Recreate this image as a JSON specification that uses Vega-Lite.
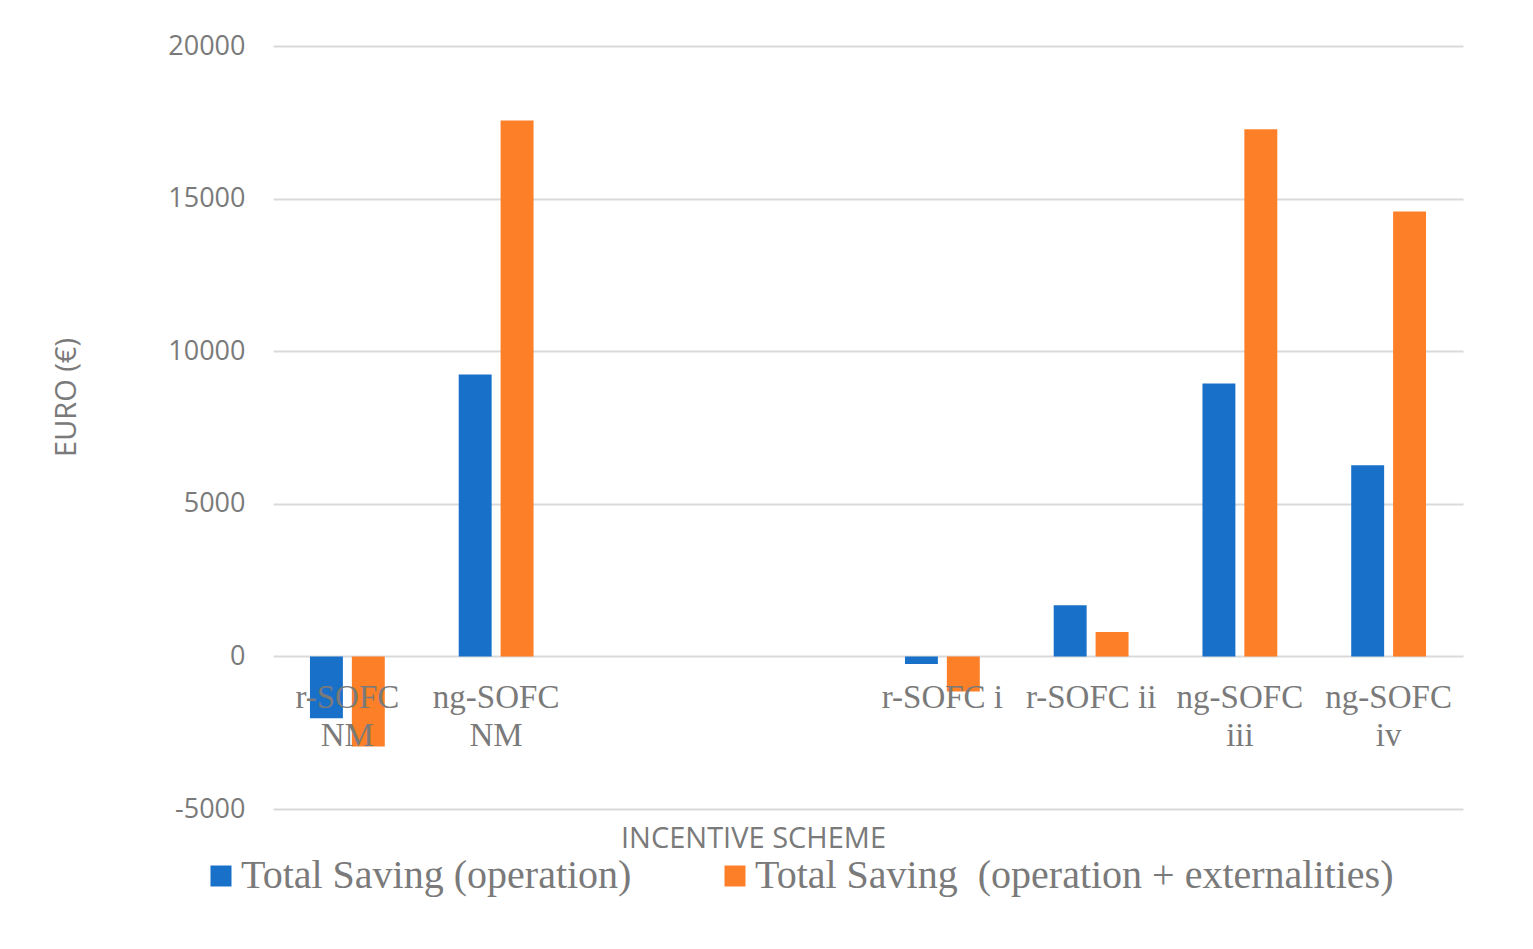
{
  "$schema": "https://vega.github.io/schema/vega-lite/v6.json",
  "autosize": {"type": "none"},
  "padding": {"left": 273, "top": 46, "right": 70, "bottom": 140},
  "width": 1190,
  "height": 763,
  "background": "white",
  "config": {"view": {"stroke": null}},
  "data": {
    "values": [
      {"scheme": "r-SOFC|NM", "series": "Total Saving (operation)", "value": -2030},
      {"scheme": "r-SOFC|NM", "series": "Total Saving  (operation + externalities)", "value": -2950},
      {"scheme": "ng-SOFC|NM", "series": "Total Saving (operation)", "value": 9240},
      {"scheme": "ng-SOFC|NM", "series": "Total Saving  (operation + externalities)", "value": 17560},
      {"scheme": "r-SOFC i", "series": "Total Saving (operation)", "value": -250},
      {"scheme": "r-SOFC i", "series": "Total Saving  (operation + externalities)", "value": -1150},
      {"scheme": "r-SOFC ii", "series": "Total Saving (operation)", "value": 1680},
      {"scheme": "r-SOFC ii", "series": "Total Saving  (operation + externalities)", "value": 800},
      {"scheme": "ng-SOFC|iii", "series": "Total Saving (operation)", "value": 8945},
      {"scheme": "ng-SOFC|iii", "series": "Total Saving  (operation + externalities)", "value": 17270},
      {"scheme": "ng-SOFC|iv", "series": "Total Saving (operation)", "value": 6260},
      {"scheme": "ng-SOFC|iv", "series": "Total Saving  (operation + externalities)", "value": 14580}
    ]
  },
  "mark": {"type": "bar"},
  "encoding": {
    "x": {
      "field": "scheme",
      "type": "nominal",
      "scale": {
        "domain": ["r-SOFC|NM", "ng-SOFC|NM", " ", "  ", "r-SOFC i", "r-SOFC ii", "ng-SOFC|iii", "ng-SOFC|iv"],
        "paddingInner": 0.497,
        "paddingOuter": 0.2485
      },
      "axis": {
        "zindex": 1,
        "title": "INCENTIVE SCHEME",
        "titleFont": "Open Sans",
        "titleFontSize": 29,
        "titleFontWeight": "normal",
        "titleColor": "#7a7a7a",
        "titleX": 480,
        "titleY": 181,
        "titleAlign": "center",
        "titleBaseline": "middle",
        "offset": -152,
        "domain": false,
        "ticks": false,
        "labelAngle": 0,
        "labelFont": "Liberation Serif",
        "labelFontSize": 33,
        "labelColor": "#7a7a7a",
        "labelPadding": 24,
        "labelLineHeight": 38,
        "labelBaseline": "top",
        "labelExpr": "split(datum.label, '|')",
        "grid": false
      }
    },
    "xOffset": {
      "field": "series",
      "type": "nominal",
      "sort": ["Total Saving (operation)", "Total Saving  (operation + externalities)"],
      "scale": {"paddingInner": 0.214, "paddingOuter": 0}
    },
    "y": {
      "field": "value",
      "type": "quantitative",
      "scale": {"domain": [-5000, 20000], "nice": false},
      "axis": {
        "title": "EURO (€)",
        "titleFont": "Open Sans",
        "titleFontSize": 29,
        "titleFontWeight": "normal",
        "titleColor": "#7a7a7a",
        "titleAngle": -90,
        "titleX": -207,
        "titleY": 351,
        "titleAlign": "center",
        "titleBaseline": "middle",
        "values": [-5000, 0, 5000, 10000, 15000, 20000],
        "labelExpr": "toString(datum.value)",
        "domain": false,
        "ticks": false,
        "labelFont": "Open Sans",
        "labelFontSize": 27,
        "labelColor": "#7a7a7a",
        "labelPadding": 28,
        "grid": true,
        "gridColor": "#d9d9d9",
        "gridWidth": 2
      }
    },
    "color": {
      "field": "series",
      "type": "nominal",
      "scale": {
        "domain": ["Total Saving (operation)", "Total Saving  (operation + externalities)"],
        "range": ["#1870c9", "#fd7f27"]
      },
      "legend": {
        "title": null,
        "orient": "none",
        "legendX": -72,
        "legendY": 810,
        "padding": 0,
        "direction": "horizontal",
        "symbolType": "square",
        "symbolSize": 441,
        "symbolStrokeWidth": 0,
        "symbolOffset": 0,
        "labelFont": "Liberation Serif",
        "labelFontSize": 40,
        "labelColor": "#7a7a7a",
        "labelOffset": 0,
        "labelLimit": 1000,
        "labelExpr": "replace(datum.label, '  ', ' \u00a0')",
        "columnPadding": 83
      }
    }
  }
}
